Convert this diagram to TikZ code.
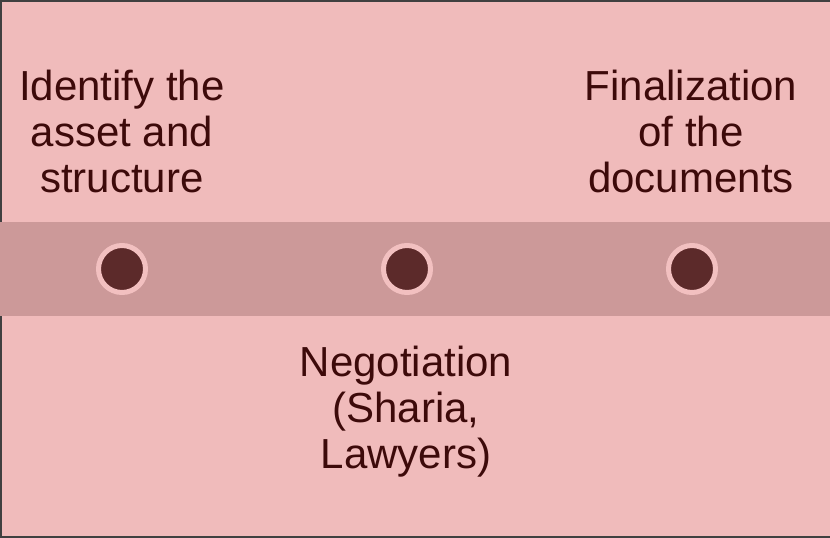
\documentclass[tikz,border=0pt]{standalone}
\usepackage{fontspec}
\setmainfont{Liberation Sans}
\definecolor{pagebg}{HTML}{F0BBBB}
\definecolor{bandbg}{HTML}{CC9999}
\definecolor{ringc}{HTML}{F2C0C0}
\definecolor{dotc}{HTML}{5C2A2A}
\definecolor{labelc}{HTML}{3D0A0A}
\definecolor{framec}{HTML}{404040}
\begin{document}
\begin{tikzpicture}[x=1pt,y=-1pt,
  stage/.style={circle,fill=dotc,draw=ringc,line width=5pt,minimum size=47pt,inner sep=0pt},
  label/.style={align=center,inner sep=0pt,text=labelc,font=\fontsize{42}{46}\selectfont}]
  % page and frame
  \fill[pagebg] (0,0) rectangle (830,538);
  \useasboundingbox (0,0) rectangle (830,538);
  \draw[framec,line width=2.5pt] (830,1) -- (1,1) -- (1,537) -- (830,537);
  % timeline band
  \fill[bandbg] (0,222) rectangle (830,316);
  % stage markers
  \node[stage] (s1) at (122,269) {};
  \node[stage] (s2) at (407,269) {};
  \node[stage] (s3) at (692,269) {};
  % stage labels, placed by the baseline of their last line
  \node[label,anchor=base] (l1) at (122,192) {Identify the\\asset and\\structure};
  \node[label,anchor=base] (l2) at (406,468) {Negotiation\\(Sharia,\\Lawyers)};
  \node[label,anchor=base] (l3) at (691,192) {Finalization\\of the\\documents};
\end{tikzpicture}
\end{document}
